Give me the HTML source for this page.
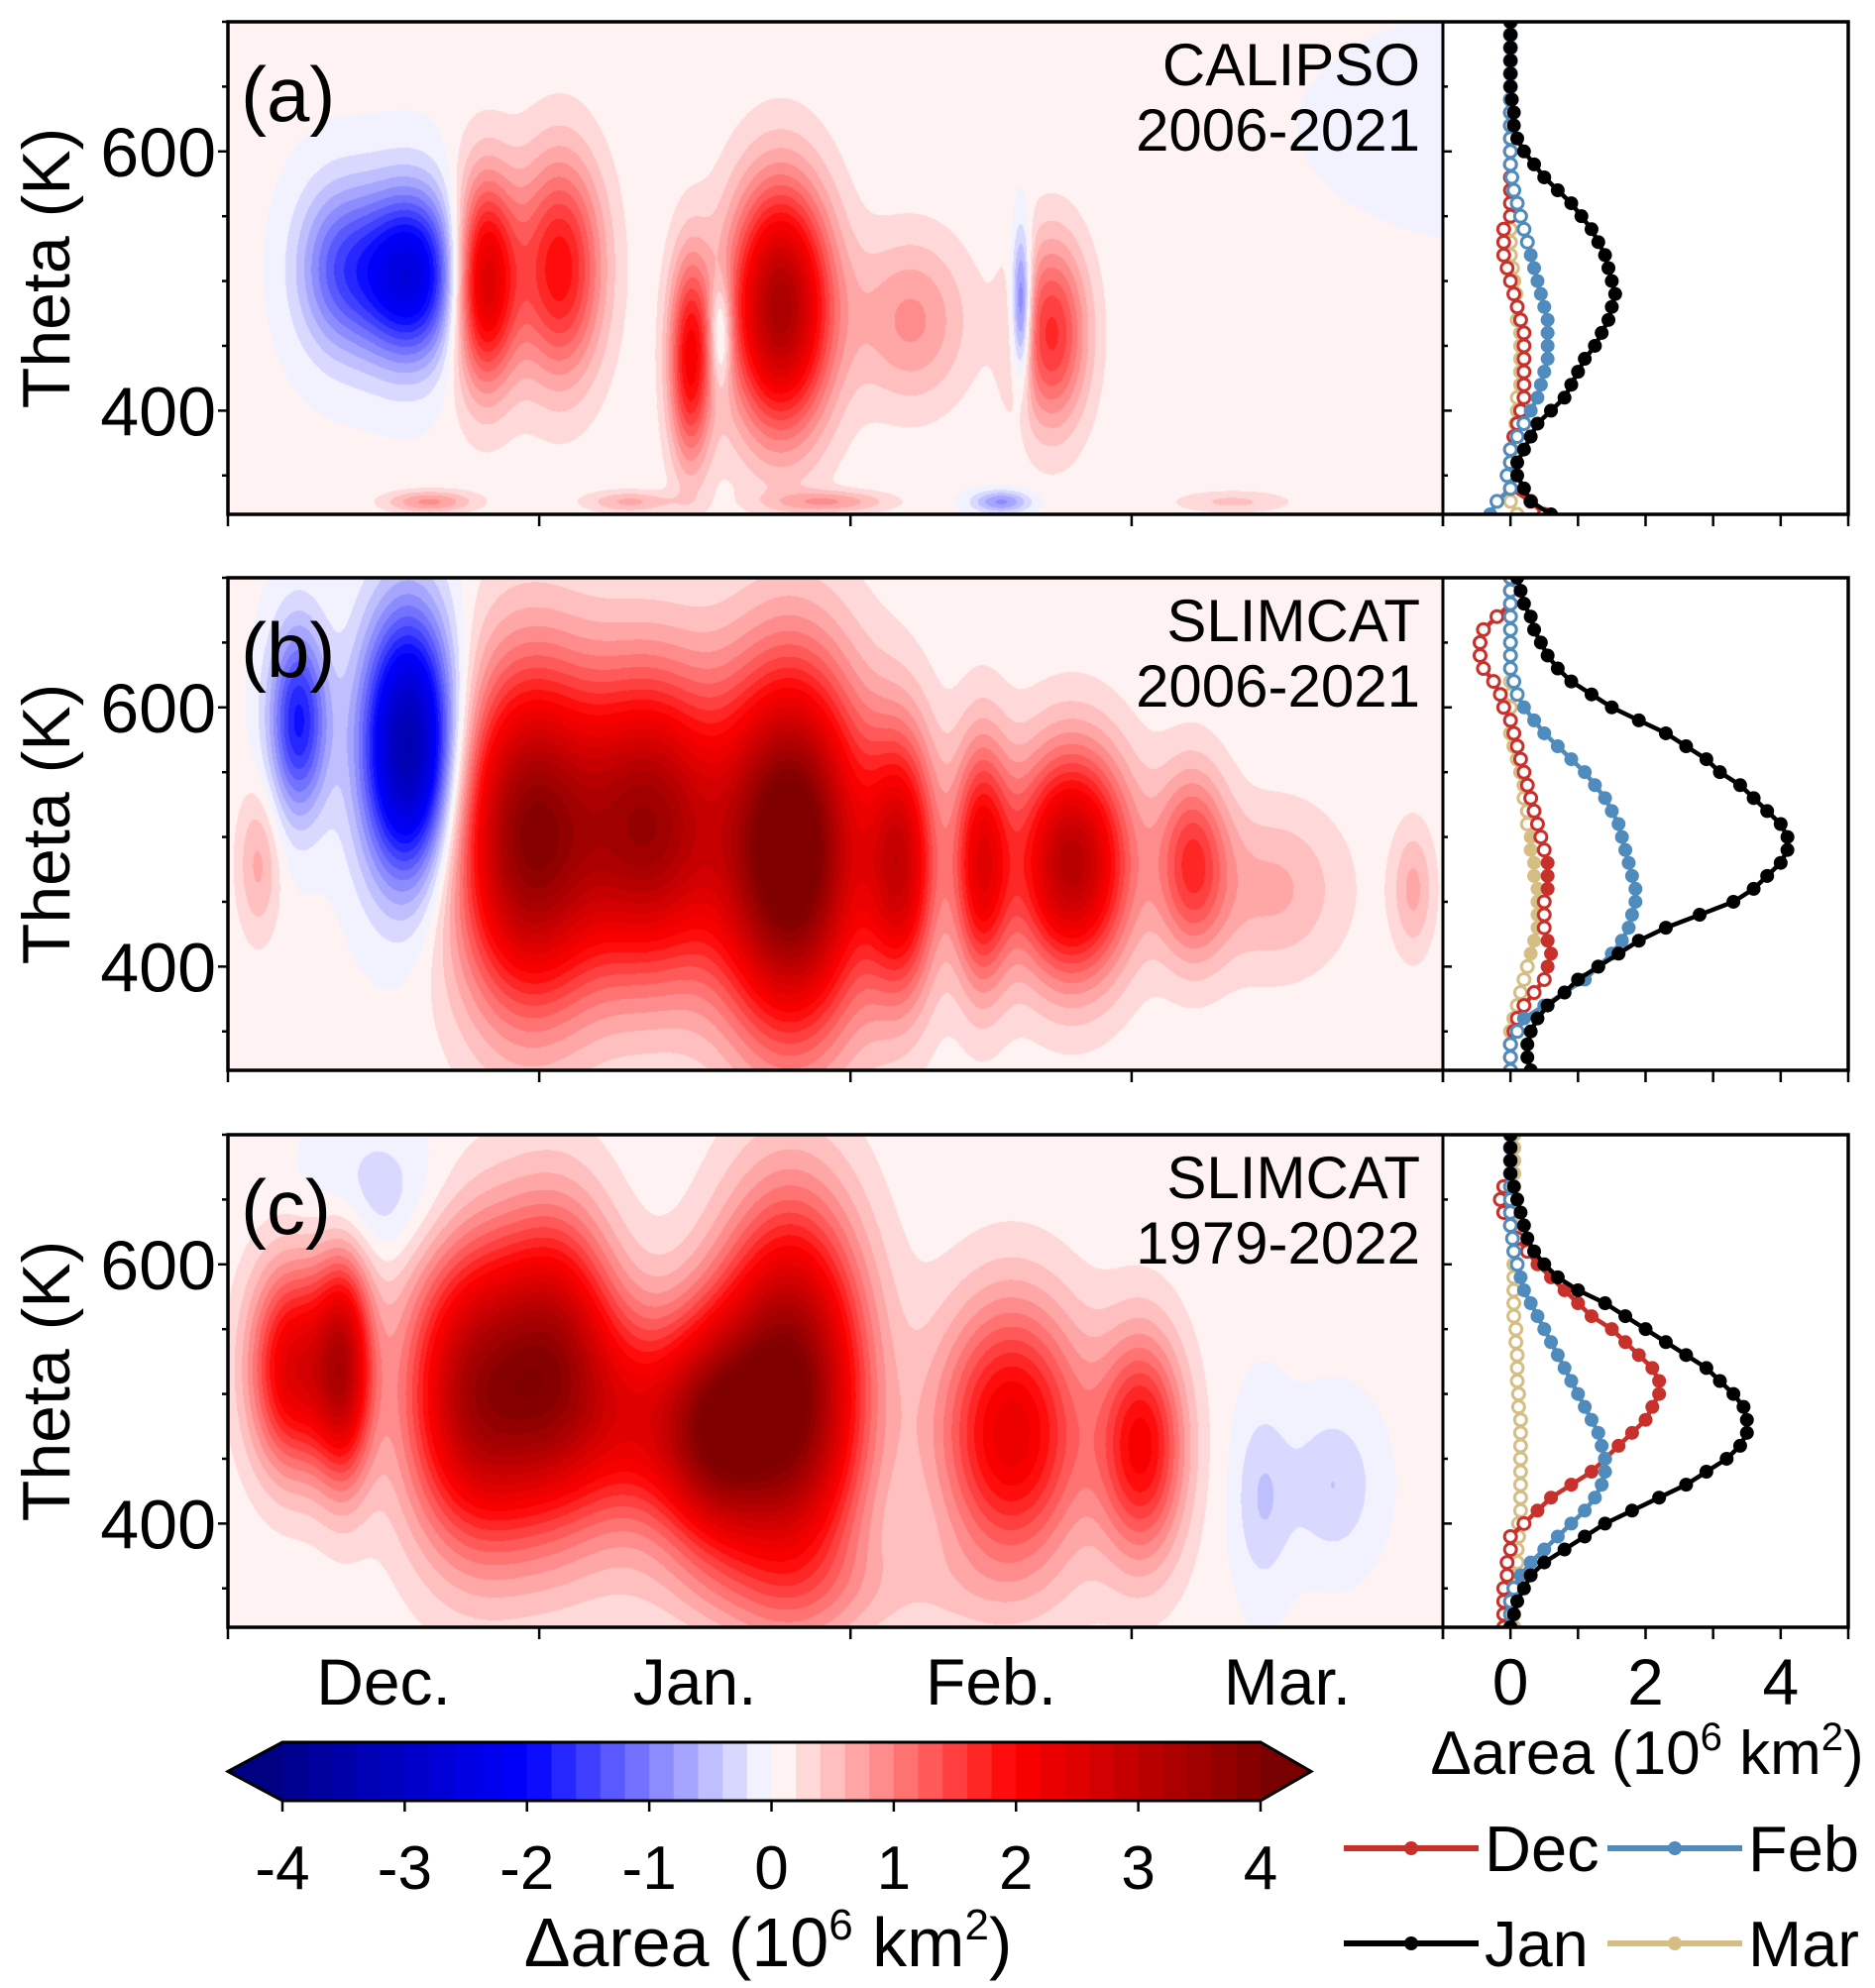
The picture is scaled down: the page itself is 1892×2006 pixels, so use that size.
<!DOCTYPE html>
<html><head><meta charset="utf-8"><style>
body{margin:0;background:#fff;width:1892px;height:2006px;overflow:hidden;font-family:"Liberation Sans",sans-serif}
canvas{position:absolute}
svg{position:absolute;left:0;top:0}
</style></head><body>
<canvas id="hm0"></canvas>
<canvas id="hm1"></canvas>
<canvas id="hm2"></canvas>
<svg id="svg" width="1892" height="2006"></svg>
<script>
// ---- data ----
const monthLabels=["Dec.","Jan.","Feb.","Mar."];
const monthTickDays=[0,31,62,90,121];
const monthLabelDays=[15.5,46.5,76,105.5];
const thetaTicks=[400,600];
const profTickLabels=[0,2,4];
const cbTicks=[-4,-3,-2,-1,0,1,2,3,4];
const panelLabels=["(a)","(b)","(c)"];
const panelTitles=[["CALIPSO","2006-2021"],["SLIMCAT","2006-2021"],["SLIMCAT","1979-2022"]];
const thetaLevels=[320,330,340,350,360,370,380,390,400,410,420,430,440,450,460,470,480,490,500,510,520,530,540,550,560,570,580,590,600,610,620,630,640,650,660,670,680,690,700];
// blobs: day (since Dec 1), theta, amplitude, half-width days, half-width theta
const blobDayA=[11,18,25.5,33,46,49,55,68,79,82,20,40,60,77,100,130];
const blobThetaA=[510,505,500,510,440,460,480,470,480,460,330,330,330,330,330,620];
const blobAmpA=[-1.2,-2.6,2.6,1.9,2.0,-1.0,3.3,0.8,-1.6,1.6,0.8,0.6,0.7,-0.9,0.4,-0.1];
const blobWdA=[3,3.5,2.2,3,1.5,0.8,3.5,4,0.7,2.5,3,3,4,2,4,20];
const blobWtA=[45,45,55,60,55,30,65,45,40,50,6,6,6,6,6,80];
const blobDayB=[3,7,18,30,42,56,67,75,84,96,104,118];
const blobThetaB=[480,590,570,500,510,490,480,480,480,480,460,460];
const blobAmpB=[0.6,-1.9,-3.6,3.7,3.3,4.6,2.5,2.2,3.1,1.5,0.6,0.6];
const blobWdB=[1.5,2,3.2,5,5,5,2.5,2,4,2.5,5,1.5];
const blobWtB=[40,50,70,90,80,95,70,65,60,50,45,35];
const blobDayC=[6.5,11.5,25,33,48,56,78,91,103,110,15,60,40];
const blobThetaC=[520,520,500,520,470,500,470,460,420,430,650,350,480];
const blobAmpC=[2.4,2.6,3.3,2.6,3.0,4.0,2.3,2.0,-0.45,-0.45,-0.45,0.3,1.5];
const blobWdC=[3,2,5,4,4,5,5,3,2,3,5,15,4];
const blobWtC=[55,60,80,80,60,95,70,60,50,40,40,30,60];
// profiles per panel
const decA=[0.5,0.3,0,0,0,0,0.05,0.1,0.15,0.2,0.2,0.2,0.2,0.2,0.2,0.15,0.1,0.05,0,-0.05,-0.1,-0.1,-0.1,0,0,0,0,0,0,0,0,0,0,0,0,0,0,0,0];
const janA=[0.6,0.3,0.2,0.1,0.1,0.2,0.3,0.4,0.6,0.8,0.9,1.0,1.1,1.25,1.35,1.45,1.5,1.55,1.5,1.45,1.4,1.3,1.2,1.05,0.9,0.7,0.5,0.35,0.2,0.1,0.05,0.05,0.02,0,0,0,0,0,0];
const febA=[-0.3,-0.2,0,-0.05,0,0,0.1,0.2,0.3,0.4,0.45,0.5,0.55,0.55,0.55,0.55,0.5,0.45,0.4,0.35,0.3,0.25,0.2,0.15,0.1,0.05,0.02,0,0,0,0,0,0,0,0,0,0,0,0];
const marA=[0.1,0,0,0,0,0.02,0.05,0.08,0.1,0.1,0.15,0.15,0.15,0.15,0.15,0.1,0.1,0.08,0.05,0.03,0,0,0,0,0,0,0,0,0,0,0,0,0,0,0,0,0,0,0];
const decB=[0,0,0,0.05,0.1,0.2,0.35,0.5,0.55,0.6,0.55,0.5,0.5,0.5,0.55,0.55,0.55,0.5,0.45,0.4,0.35,0.3,0.25,0.2,0.15,0.1,0.05,0,-0.1,-0.15,-0.25,-0.4,-0.45,-0.45,-0.4,-0.2,0,0,0];
const janB=[0.3,0.25,0.25,0.3,0.4,0.55,0.8,1.0,1.3,1.6,1.9,2.3,2.8,3.3,3.6,3.8,4.0,4.1,4.1,4.0,3.8,3.6,3.4,3.1,2.9,2.6,2.3,1.9,1.5,1.2,0.9,0.7,0.55,0.45,0.35,0.3,0.2,0.15,0.1];
const febB=[0,0,0,0.1,0.2,0.5,0.8,1.1,1.3,1.5,1.65,1.75,1.8,1.85,1.85,1.8,1.75,1.7,1.65,1.6,1.5,1.4,1.25,1.1,0.9,0.7,0.5,0.35,0.2,0.1,0.05,0,0,0,0,0,0,0,0];
const marB=[0,0,0,0,0.05,0.1,0.15,0.2,0.25,0.3,0.35,0.4,0.4,0.4,0.4,0.35,0.35,0.3,0.3,0.25,0.25,0.2,0.2,0.15,0.1,0.05,0,0,0,0,0,0,0,0,0,0,0,0,0];
const decC=[-0.1,-0.1,-0.1,-0.1,-0.05,-0.05,0,0,0.2,0.4,0.6,0.9,1.2,1.4,1.6,1.8,2.0,2.1,2.2,2.2,2.1,1.9,1.7,1.5,1.2,1.0,0.8,0.6,0.4,0.25,0.1,0,-0.1,-0.15,-0.1,0,0,0,0];
const janC=[0,0.05,0.1,0.2,0.3,0.5,0.8,1.1,1.4,1.8,2.2,2.6,2.9,3.2,3.4,3.5,3.5,3.45,3.3,3.1,2.9,2.6,2.3,2.0,1.7,1.4,1.0,0.7,0.5,0.35,0.25,0.2,0.15,0.1,0.05,0,0,0,0];
const febC=[0,0,0,0.05,0.15,0.3,0.5,0.7,0.9,1.1,1.25,1.35,1.4,1.4,1.35,1.3,1.2,1.1,1.0,0.9,0.8,0.7,0.6,0.5,0.4,0.3,0.2,0.15,0.1,0.05,0.03,0,0,0,0,0,0,0,0];
const marC=[0.05,0.05,0.05,0.05,0.08,0.1,0.1,0.12,0.12,0.15,0.15,0.15,0.15,0.15,0.15,0.15,0.15,0.12,0.12,0.1,0.1,0.1,0.08,0.08,0.05,0.05,0.05,0.05,0.05,0.05,0.05,0.05,0.05,0.05,0.05,0.05,0.05,0.05,0.05];
const sigA=[9,0,0.3,9], sigB=[0.55,0,0.2,0.3], sigC=[0.3,0,0.15,9];
const legendNames=["Dec","Jan","Feb","Mar"];

// ---- layout ----
const L=230,R=1456,PR=1865,H=497,TOPS=[22,583,1145],W=R-L,PW=PR-R;
const colors=["#c8312b","#000000","#4f8bbd","#d6bd84"];
const xDay=d=>L+d/121*W;
const yTh=(t,p)=>TOPS[p]+(700-t)/380*H;
const xProf=v=>R+(v+1)/6*PW;
const svg=document.getElementById('svg');
const NS="http://www.w3.org/2000/svg";
function mk(tag,at,txt){const e=document.createElementNS(NS,tag);for(const k in at)e.setAttribute(k,at[k]);if(txt!==undefined)e.textContent=txt;svg.appendChild(e);return e;}

function seismic(v){
  let r,g,b;
  if(v<=-2){const f=(v+4)/2;r=0;g=0;b=140+115*f;}
  else if(v<0){const f=(v+2)/2;r=255*f;g=255*f;b=255;}
  else if(v<2){const f=v/2;r=255;g=255*(1-f);b=255*(1-f);}
  else{const f=(v-2)/2;r=255-127*f;g=0;b=0;}
  return [r,g,b];
}
function binColor(v){
  let q=Math.floor(v/0.2);q=Math.max(-21,Math.min(20,q));
  let c=(q+0.5)*0.2; c=Math.max(-4,Math.min(4,c));
  if(q>=20)c=4; if(q<=-21)c=-4;
  return seismic(c);
}
const blobSets=[[blobDayA,blobThetaA,blobAmpA,blobWdA,blobWtA],[blobDayB,blobThetaB,blobAmpB,blobWdB,blobWtB],[blobDayC,blobThetaC,blobAmpC,blobWdC,blobWtC]];
for(let p=0;p<3;p++){
  const cv=document.getElementById('hm'+p);
  cv.width=W;cv.height=H;cv.style.left=L+'px';cv.style.top=TOPS[p]+'px';
  const ctx=cv.getContext('2d');const img=ctx.createImageData(W,H);
  const [bd,bt,ba,bw,bwt]=blobSets[p];
  for(let y=0;y<H;y++){
    const th=700-y/H*380;
    for(let x=0;x<W;x++){
      const d=x/W*121;let v=0.05;
      for(let i=0;i<bd.length;i++){
        const dx=(d-bd[i])/bw[i],dy=(th-bt[i])/bwt[i];
        const e=dx*dx+dy*dy; if(e<30)v+=ba[i]*Math.exp(-e/2);
      }
      const c=binColor(v);const k=(y*W+x)*4;
      img.data[k]=c[0];img.data[k+1]=c[1];img.data[k+2]=c[2];img.data[k+3]=255;
    }
  }
  ctx.putImageData(img,0,0);
}

const profSets=[[decA,janA,febA,marA],[decB,janB,febB,marB],[decC,janC,febC,marC]];
const sigSets=[sigA,sigB,sigC];
const order=[3,0,2,1];
for(let p=0;p<3;p++){
  const T=TOPS[p],B=T+H;
  const cp=mk('clipPath',{id:'cp'+p});
  const cr=document.createElementNS(NS,'rect');cr.setAttribute('x',R);cr.setAttribute('y',T);cr.setAttribute('width',PW);cr.setAttribute('height',H);cp.appendChild(cr);
  const g=mk('g',{'clip-path':'url(#cp'+p+')',});
  for(const s of order){
    const vals=profSets[p][s];
    let dstr='';
    vals.forEach((v,i)=>{dstr+=(i?'L':'M')+xProf(v).toFixed(1)+','+yTh(thetaLevels[i],p).toFixed(1);});
    const pl=document.createElementNS(NS,'path');
    pl.setAttribute('d',dstr);pl.setAttribute('fill','none');pl.setAttribute('stroke',colors[s]);pl.setAttribute('stroke-width','4.5');
    
    
    g.appendChild(pl);
    vals.forEach((v,i)=>{
      const c=document.createElementNS(NS,'circle');
      const filled=Math.abs(v)>=sigSets[p][s];
      c.setAttribute('cx',xProf(v));c.setAttribute('cy',yTh(thetaLevels[i],p));
      c.setAttribute('r',filled?7:6);
      c.setAttribute('fill',filled?colors[s]:'#fff');c.setAttribute('stroke',colors[s]);c.setAttribute('stroke-width',filled?0:3);
      
      
      g.appendChild(c);
    });
  }
  mk('rect',{x:L,y:T,width:PR-L,height:H,fill:'none',stroke:'#000','stroke-width':3.5,});
  mk('line',{x1:R,y1:T,x2:R,y2:B,stroke:'#000','stroke-width':3,});
  for(let t=350;t<=700;t+=50){
    const y=yTh(t,p),maj=thetaTicks.includes(t);
    mk('line',{x1:L-(maj?10:6),y1:y,x2:L,y2:y,stroke:'#000','stroke-width':2.5,});
    mk('line',{x1:R,y1:y,x2:R+(maj?9:5),y2:y,stroke:'#000','stroke-width':2.5,});
  }
  thetaTicks.forEach(t=>mk('text',{x:L-12,y:yTh(t,p)+25,'text-anchor':'end','font-size':70,},String(t)));
  mk('text',{x:0,y:0,transform:`translate(70,${T+H/2}) rotate(-90)`,'text-anchor':'middle','font-size':68,},'Theta (K)');
  monthTickDays.forEach(d=>mk('line',{x1:xDay(d),y1:B,x2:xDay(d),y2:B+12,stroke:'#000','stroke-width':2.5,}));
  for(let v=-1;v<=5;v++)mk('line',{x1:xProf(v),y1:B,x2:xProf(v),y2:B+12,stroke:'#000','stroke-width':2.5,});
  mk('text',{x:243,y:T+100,'font-size':78,},panelLabels[p]);
  mk('text',{x:1433,y:T+64,'text-anchor':'end','font-size':60,},panelTitles[p][0]);
  mk('text',{x:1433,y:T+130,'text-anchor':'end','font-size':60,},panelTitles[p][1]);
}
monthLabelDays.forEach((d,i)=>mk('text',{x:xDay(d),y:1720,'text-anchor':'middle','font-size':66,},monthLabels[i]));
profTickLabels.forEach(v=>mk('text',{x:xProf(v),y:1720,'text-anchor':'middle','font-size':66,},String(v)));
mk('text',{x:1662,y:1790,'text-anchor':'middle','font-size':62,}).innerHTML='Δarea (10<tspan dy="-24" font-size="40">6</tspan><tspan dy="24"> km</tspan><tspan dy="-24" font-size="40">2</tspan><tspan dy="24">)</tspan>';
const cbL=285,cbR=1272,cbT=1758,cbB=1817,cbW=cbR-cbL;
const xcb=v=>cbL+(v+4)/8*cbW;
for(let i=0;i<40;i++){const v0=-4+i*0.2;const c=seismic(v0+0.1);
  mk('rect',{x:xcb(v0),y:cbT,width:cbW/40+0.6,height:cbB-cbT,fill:`rgb(${c[0]|0},${c[1]|0},${c[2]|0})`,});}
const cm=(cbT+cbB)/2;
mk('polygon',{points:`${cbL},${cbT} ${cbL},${cbB} 230,${cm}`,fill:'rgb(0,0,130)',});
mk('polygon',{points:`${cbR},${cbT} ${cbR},${cbB} 1323,${cm}`,fill:'rgb(120,0,0)',});
mk('polygon',{points:`230,${cm} ${cbL},${cbT} ${cbR},${cbT} 1323,${cm} ${cbR},${cbB} ${cbL},${cbB}`,fill:'none',stroke:'#000','stroke-width':3,});
cbTicks.forEach(v=>{mk('line',{x1:xcb(v),y1:cbB,x2:xcb(v),y2:cbB+11,stroke:'#000','stroke-width':2.5,});
  mk('text',{x:xcb(v),y:1906,'text-anchor':'middle','font-size':62,},String(v));});
mk('text',{x:775,y:1984,'text-anchor':'middle','font-size':70,}).innerHTML='Δarea (10<tspan dy="-27" font-size="44">6</tspan><tspan dy="27"> km</tspan><tspan dy="-27" font-size="44">2</tspan><tspan dy="27">)</tspan>';
const legPos=[[1356,1865],[1356,1961],[1622,1865],[1622,1961]];
legendNames.forEach((n,i)=>{const [x,y]=legPos[i];
  mk('line',{x1:x,y1:y,x2:x+136,y2:y,stroke:colors[i],'stroke-width':6,});
  mk('circle',{cx:x+68,cy:y,r:7,fill:colors[i],});
  mk('text',{x:x+142,y:y+23,'font-size':65,},n);});
</script>
</body></html>
